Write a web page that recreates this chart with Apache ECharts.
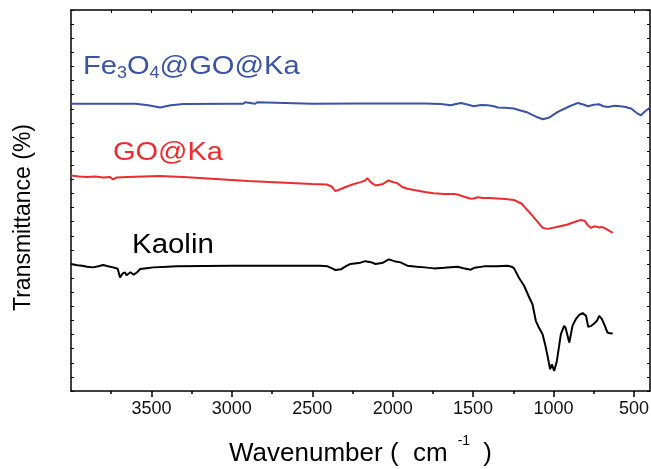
<!DOCTYPE html>
<html>
<head>
<meta charset="utf-8">
<title>FTIR</title>
<script src="https://cdn.jsdelivr.net/npm/echarts@6.0.0/dist/echarts.min.js"></script>
<style>
  html, body { margin: 0; padding: 0; background: #fff; }
  #chart { width: 651px; height: 469px; }
</style>
</head>
<body>
<div id="chart"></div>
<script>
/* ---------------- data ---------------- */
// wavenumber (cm-1) and transmittance (arbitrary offset units)
const feWn = [4000, 3600, 3520, 3446, 3380, 3300, 3000, 2930, 2917, 2905, 2855, 2842, 2830, 2500, 2200, 1800, 1700, 1640, 1577, 1530, 1496, 1450, 1409, 1370, 1347, 1300, 1247, 1200, 1160, 1100, 1066, 1030, 973, 900, 848, 810, 786, 750, 718, 690, 662, 620, 599, 560, 518, 480, 456, 430, 400];
const feT = [286.5, 286.5, 285, 282.7, 285, 286.3, 286.5, 286.5, 288, 286.5, 286.5, 288, 286.5, 286.5, 286.7, 286.7, 286.3, 285, 287.3, 285.5, 284, 285.3, 285, 284, 282.7, 282.5, 281.7, 279.5, 277.7, 273, 271, 272.5, 278.3, 284, 287.3, 285.5, 284, 285.5, 286, 284, 283.3, 284.5, 284.3, 283.5, 281.7, 277, 275, 279, 282.7];

const goWn = [4000, 3950, 3900, 3850, 3800, 3760, 3738, 3715, 3650, 3550, 3450, 3300, 3100, 2900, 2700, 2500, 2410, 2380, 2356, 2330, 2300, 2250, 2200, 2170, 2158, 2135, 2107, 2060, 2026, 2000, 1972, 1940, 1909, 1850, 1800, 1745, 1680, 1620, 1598, 1560, 1520, 1504, 1470, 1440, 1400, 1350, 1300, 1247, 1200, 1141, 1100, 1068, 1037, 980, 913, 860, 830, 805, 785, 767, 750, 736, 715, 700, 685, 660, 632];
const goT = [215, 214, 213.5, 214, 213, 213.5, 211, 213, 213.5, 214, 214.5, 213.5, 211.5, 209.5, 208, 206.5, 206, 204, 199.3, 201, 203, 206, 208.3, 210, 212.3, 208, 205, 206.5, 210, 208.5, 207.3, 203.5, 201.7, 200, 198.5, 197.3, 196.5, 196.5, 196, 194, 192, 191.7, 193.3, 192.5, 192.5, 192, 191.5, 190.5, 187, 176.7, 169, 162.7, 161.7, 163.5, 166, 169, 170.7, 169.5, 165, 162.7, 164, 164, 163, 163.5, 162.7, 160.5, 157.7];

const kaWn = [4000, 3960, 3930, 3900, 3863, 3830, 3800, 3770, 3738, 3710, 3695, 3680, 3664, 3655, 3643, 3630, 3622, 3610, 3601, 3585, 3570, 3530, 3487, 3400, 3342, 3000, 2700, 2450, 2408, 2380, 2356, 2320, 2290, 2262, 2200, 2170, 2158, 2135, 2107, 2060, 2024, 1990, 1951, 1909, 1850, 1800, 1743, 1680, 1598, 1560, 1515, 1490, 1432, 1350, 1286, 1260, 1245, 1215, 1183, 1150, 1131, 1110, 1090, 1068, 1050, 1037, 1021, 1010, 996, 979, 965, 954, 934, 925, 917, 902, 890, 882, 860, 840, 819, 798, 784, 765, 747, 730, 716, 700, 685, 664, 650, 632];
const kaT = [126.7, 125.5, 125, 124, 123.3, 124.5, 125.7, 124.5, 123.3, 122, 113.3, 117, 118.3, 115.5, 115, 118.5, 118.3, 116, 115, 119, 121.7, 122.5, 123.3, 124, 124.3, 125, 125, 125, 124.5, 122.5, 120.7, 121.5, 124.5, 126.7, 128, 129.5, 131, 128.5, 126.7, 128, 131.3, 129.5, 128.3, 125, 124, 123.3, 122.3, 123, 124, 122.5, 121, 123, 124.3, 124.5, 125, 124, 122.3, 113, 105, 93, 86.7, 70, 63, 56.7, 45, 35, 21.7, 26.7, 20, 30, 45, 56.7, 65, 63, 61.7, 48.3, 58, 65, 72, 76, 77.7, 75, 64, 65, 67.3, 70, 75, 72, 66.7, 58.3, 57.5, 57.3];

// tick labels
const majorTicks = [3500, 3000, 2500, 2000, 1500, 1000, 500];
const minorTicks = [3750, 3250, 2750, 2250, 1750, 1250, 750];
const allTicks = [3750, 3500, 3250, 3000, 2750, 2500, 2250, 2000, 1750, 1500, 1250, 1000, 750, 500];

/* ---------------- chart ---------------- */
const FONT = "'Liberation Sans', Arial, sans-serif";
const zip = (xs, ys) => xs.map((x, i) => [x, ys[i]]);

let chart = echarts.init(document.getElementById('chart'));

const xBase = {
  type: 'value', min: 400, max: 4000, inverse: true, gridIndex: 0,
  splitLine: { show: false }
};
const yBase = {
  type: 'value', min: 0, max: 380, interval: 380 / 27,
  axisLine: { show: true, lineStyle: { color: '#000', width: 1.5 } },
  axisTick: { show: true, inside: true, length: 3, lineStyle: { color: '#000', width: 1 } },
  axisLabel: { show: false },
  splitLine: { show: false }
};

chart.setOption({
  animation: false,
  backgroundColor: '#fff',
  grid: { left: 71, right: 1, top: 10, bottom: 78, containLabel: false, outerBoundsMode: 'none' },
  xAxis: [
    Object.assign({}, xBase, {
      position: 'bottom',
      axisLine: { show: true, onZero: false, lineStyle: { color: '#000', width: 1.5 } },
      axisTick: { show: true, inside: false, length: 6, customValues: majorTicks, lineStyle: { color: '#000', width: 1.5 } },
      axisLabel: {
        customValues: majorTicks, fontSize: 18, color: '#111', margin: 9, fontFamily: FONT,
        formatter: function (v) { return String(v); }
      },
      name: '{a|Wavenumber (  cm}{s|-1}{a| )}',
      nameLocation: 'middle',
      nameGap: 43,
      nameTextStyle: {
        rich: {
          a: { fontSize: 26, fontFamily: FONT, color: '#000', lineHeight: 40 },
          s: { fontSize: 14, fontFamily: FONT, color: '#000', lineHeight: 14, verticalAlign: 'top', padding: [0, 6, 0, 10] }
        }
      }
    }),
    Object.assign({}, xBase, {
      position: 'bottom',
      axisLine: { show: false, onZero: false },
      axisTick: { show: true, inside: false, length: 3, customValues: minorTicks, lineStyle: { color: '#000', width: 1.5 } },
      axisLabel: { show: false }
    }),
    Object.assign({}, xBase, {
      position: 'top',
      axisLine: { show: true, onZero: false, lineStyle: { color: '#000', width: 1.5 } },
      axisTick: { show: true, inside: true, length: 3, customValues: allTicks, lineStyle: { color: '#000', width: 1 } },
      axisLabel: { show: false }
    })
  ],
  yAxis: [
    Object.assign({}, yBase, {
      position: 'left',
      name: 'Transmittance (%)',
      nameLocation: 'middle',
      nameGap: 36,
      nameTextStyle: { fontSize: 23, fontFamily: FONT, color: '#000', padding: [0, 34, 0, 0] }
    }),
    Object.assign({}, yBase, { position: 'right' })
  ],
  series: [
    {
      name: 'Fe3O4@GO@Ka', type: 'line', xAxisIndex: 0, yAxisIndex: 0,
      showSymbol: false, lineStyle: { color: '#3a53a4', width: 2 }, itemStyle: { color: '#3a53a4' },
      data: zip(feWn, feT)
    },
    {
      name: 'GO@Ka', type: 'line', xAxisIndex: 0, yAxisIndex: 0,
      showSymbol: false, lineStyle: { color: '#ee2b2f', width: 2 }, itemStyle: { color: '#ee2b2f' },
      data: zip(goWn, goT)
    },
    {
      name: 'Kaolin', type: 'line', xAxisIndex: 0, yAxisIndex: 0,
      showSymbol: false, lineStyle: { color: '#000', width: 2 }, itemStyle: { color: '#000' },
      data: zip(kaWn, kaT)
    }
  ],
  // curve labels
  graphic: [
    {
      type: 'text', x: 83, y: 67, scaleX: 1.12, originX: 0,
      style: {
        text: '{m|Fe}{s|3}{m|O}{s|4}{m|@GO@Ka}', align: 'left', verticalAlign: 'middle',
        rich: {
          m: { fontSize: 26, fontFamily: FONT, fill: '#3a53a4', lineHeight: 30 },
          s: { fontSize: 16, fontFamily: FONT, fill: '#3a53a4', lineHeight: 12, verticalAlign: 'bottom' }
        }
      }
    },
    {
      type: 'text', x: 113, y: 153, scaleX: 1.115, originX: 0,
      style: { text: 'GO@Ka', font: '26px ' + FONT, fill: '#ee2b2f', align: 'left', verticalAlign: 'middle' }
    },
    {
      type: 'text', x: 132, y: 246, scaleX: 1.09, originX: 0,
      style: { text: 'Kaolin', font: '27px ' + FONT, fill: '#000', align: 'left', verticalAlign: 'middle' }
    }
  ]
});

window.onresize = function () {
  chart.resize();
};
</script>
</body>
</html>
